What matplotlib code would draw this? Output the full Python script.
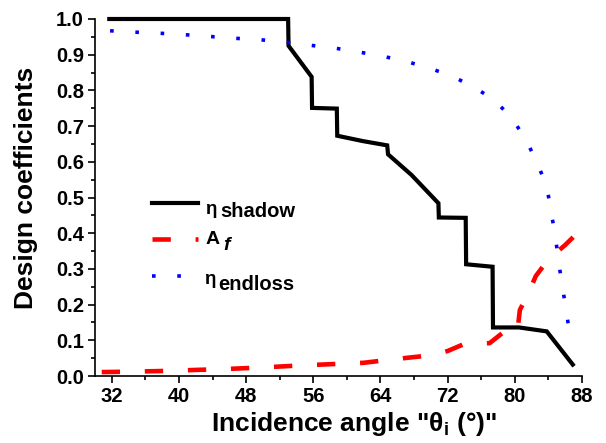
import matplotlib
matplotlib.use("Agg")
import matplotlib.pyplot as plt
from matplotlib.ticker import MultipleLocator

# ---- data ----
shadow_x = [31.7, 53.0, 53.05, 55.8, 55.85, 58.8, 58.85, 61.9, 64.8, 64.9, 67.7,
            70.9, 70.95, 74.15, 74.2, 77.35, 77.4, 80.5, 83.8, 86.9]
shadow_y = [1.0, 1.0, 0.925, 0.838, 0.751, 0.749, 0.673, 0.658, 0.646, 0.621, 0.563,
            0.484, 0.444, 0.443, 0.313, 0.306, 0.136, 0.136, 0.125, 0.032]

af_x = [30.8, 34, 38, 42, 46, 50, 54, 58, 62, 66, 70, 72, 74, 77, 78.5, 80.3,
        80.6, 81.5, 82.5, 84, 86, 87.0]
af_y = [0.011, 0.012, 0.014, 0.017, 0.020, 0.024, 0.029, 0.033, 0.037, 0.048, 0.058,
        0.07, 0.09, 0.092, 0.12, 0.124, 0.185, 0.226, 0.28, 0.327, 0.367, 0.39]

el_x = [31.8, 34.9, 37.8, 40.7, 43.7, 46.7, 49.6, 52.5, 55.4, 58.4, 61.3, 64.2, 67.1,
        69.9, 72.7, 75.2, 77.5, 79.6, 81.3, 82.6, 83.8, 84.3, 84.8, 85.2, 85.6, 86.1,
        86.5, 86.9]
el_y = [0.967, 0.963, 0.960, 0.956, 0.951, 0.946, 0.942, 0.936, 0.927, 0.919, 0.908,
        0.896, 0.881, 0.862, 0.838, 0.808, 0.774, 0.724, 0.663, 0.600, 0.532, 0.463,
        0.395, 0.325, 0.257, 0.189, 0.121, 0.09]

x_ticks = [32, 40, 48, 56, 64, 72, 80, 88]
y_ticks = [0.0, 0.1, 0.2, 0.3, 0.4, 0.5, 0.6, 0.7, 0.8, 0.9, 1.0]

x_label = 'Incidence angle "θ$_\\mathbf{i}$ (°)"'
y_label = "Design coefficients"

# ---- style ----
plt.rcParams["font.family"] = ["Liberation Sans", "DejaVu Sans"]
plt.rcParams["font.weight"] = "bold"
plt.rcParams["mathtext.fontset"] = "custom"
plt.rcParams["mathtext.rm"] = "Liberation Sans:bold"
plt.rcParams["mathtext.bf"] = "Liberation Sans:bold"
plt.rcParams["mathtext.it"] = "Liberation Sans:italic:bold"

W, H = 606, 443
fig = plt.figure(figsize=(W / 100, H / 100), dpi=100)
ax = fig.add_axes([95 / W, 1 - 376 / H, 487 / W, 357 / H])

l1, = ax.plot(shadow_x, shadow_y, color="black", lw=3.0, solid_joinstyle="miter",
              clip_on=False)
l2, = ax.plot(af_x, af_y, color="red", lw=3.3, linestyle=(0, (4.0, 5.4)), clip_on=False)
l3, = ax.plot(el_x, el_y, color="blue", lw=2.6, linestyle=(0, (1.0, 6.0)), clip_on=False)

ax.set_xlim(30, 88)
ax.set_ylim(0, 1.0)
ax.set_xticks(x_ticks)
ax.set_yticks(y_ticks)
ax.set_yticklabels([f"{v:.1f}" for v in y_ticks])
ax.xaxis.set_minor_locator(MultipleLocator(4))
ax.yaxis.set_minor_locator(MultipleLocator(0.05))
for s in ["top", "right"]:
    ax.spines[s].set_visible(False)
for s in ["left", "bottom"]:
    ax.spines[s].set_linewidth(1.2)
ax.tick_params(which="major", direction="out", length=5, width=1.2, labelsize=14.5, pad=3)
ax.tick_params(which="minor", direction="out", length=3, width=1.2)
for lab in ax.get_xticklabels() + ax.get_yticklabels():
    lab.set_fontweight("bold")

fig.text(26 / W, 1 - 188 / H, y_label, rotation=90, ha="center", va="center",
         fontsize=19, fontweight="bold")
fig.text(354 / W, 1 - 431 / H, x_label, ha="center", va="baseline",
         fontsize=19, fontweight="bold")

leg = ax.legend(handles=[l1, l2, l3], labels=["", "", ""], loc="upper left",
                bbox_to_anchor=(0.117, 0.5045), frameon=False, borderpad=0,
                borderaxespad=0, handlelength=2.37, handleheight=0.7,
                labelspacing=0.97, fontsize=14, handletextpad=0)

def ftext(x, y, s, size, style="normal"):
    fig.text(x / W, 1 - y / H, s, ha="left", va="baseline", fontsize=size,
             fontweight="bold", fontstyle=style)

ftext(205, 213.5, "η", 13.5)
ftext(220.5, 217, "shadow", 14.5)
ftext(206, 244, "A", 14)
ftext(223, 250.5, "f", 14, "italic")
ftext(204, 284.5, "η", 13.5)
ftext(218, 290, "endloss", 14.5)

fig.savefig("out.png", dpi=100)
